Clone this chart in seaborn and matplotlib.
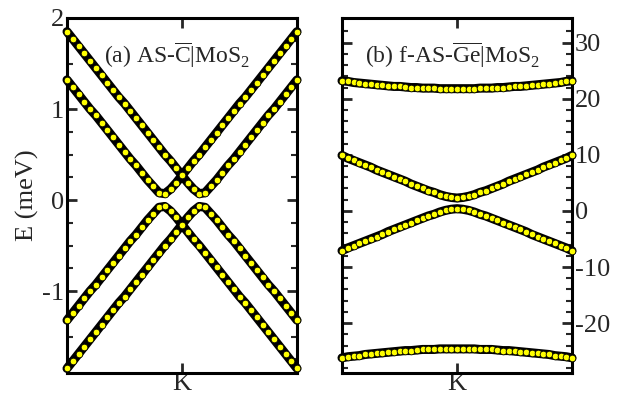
import numpy as np
import pandas as pd
import seaborn as sns
import matplotlib.pyplot as plt

# bandas do painel (a), em meV (41 pontos k)
a_up1 = [1.32, 1.24, 1.16, 1.08, 1.00, 0.93, 0.85, 0.77, 0.69, 0.61, 0.53, 0.45, 0.38, 0.30,
         0.22, 0.15, 0.08, 0.07, 0.12, 0.19, 0.27, 0.35, 0.43, 0.50, 0.58, 0.66, 0.74, 0.82,
         0.90, 0.98, 1.06, 1.13, 1.21, 1.29, 1.37, 1.45, 1.53, 1.61, 1.69, 1.77, 1.85]
a_up2 = [1.85, 1.77, 1.69, 1.61, 1.53, 1.45, 1.37, 1.29, 1.21, 1.13, 1.06, 0.98, 0.90, 0.82,
         0.74, 0.66, 0.58, 0.50, 0.43, 0.35, 0.27, 0.19, 0.12, 0.07, 0.08, 0.15, 0.22, 0.30,
         0.38, 0.45, 0.53, 0.61, 0.69, 0.77, 0.85, 0.93, 1.00, 1.08, 1.16, 1.24, 1.32]
a_dn1 = [-1.32, -1.24, -1.16, -1.08, -1.00, -0.93, -0.85, -0.77, -0.69, -0.61, -0.53, -0.45, -0.38, -0.30,
         -0.22, -0.15, -0.08, -0.07, -0.12, -0.19, -0.27, -0.35, -0.43, -0.50, -0.58, -0.66, -0.74, -0.82,
         -0.90, -0.98, -1.06, -1.13, -1.21, -1.29, -1.37, -1.45, -1.53, -1.61, -1.69, -1.77, -1.85]
a_dn2 = [-1.85, -1.77, -1.69, -1.61, -1.53, -1.45, -1.37, -1.29, -1.21, -1.13, -1.06, -0.98, -0.90, -0.82,
         -0.74, -0.66, -0.58, -0.50, -0.43, -0.35, -0.27, -0.19, -0.12, -0.07, -0.08, -0.15, -0.22, -0.30,
         -0.38, -0.45, -0.53, -0.61, -0.69, -0.77, -0.85, -0.93, -1.00, -1.08, -1.16, -1.24, -1.32]

# bandas do painel (b), em meV (41 pontos k)
b_1 = [23.2, 23.1, 22.9, 22.8, 22.7, 22.6, 22.5, 22.4, 22.3, 22.2, 22.2, 22.1, 22.0, 22.0, 21.9, 21.9, 21.9,
       21.8, 21.8, 21.8, 21.8, 21.8, 21.8, 21.8, 21.9, 21.9, 21.9, 22.0, 22.0, 22.1, 22.2, 22.2, 22.3, 22.4,
       22.5, 22.6, 22.7, 22.8, 22.9, 23.1, 23.2]
b_2 = [9.9, 9.4, 9.0, 8.6, 8.2, 7.8, 7.3, 6.9, 6.5, 6.1, 5.7, 5.3, 4.8, 4.4, 4.0, 3.6, 3.3, 2.9, 2.6, 2.4,
       2.3, 2.4, 2.6, 2.9, 3.3, 3.6, 4.0, 4.4, 4.8, 5.3, 5.7, 6.1, 6.5, 6.9, 7.3, 7.8, 8.2, 8.6, 9.0, 9.4, 9.9]
b_3 = [-7.1, -6.6, -6.2, -5.8, -5.4, -5.0, -4.6, -4.2, -3.7, -3.3, -2.9, -2.5, -2.1, -1.7, -1.3, -0.9, -0.6,
       -0.2, 0.1, 0.3, 0.4, 0.3, 0.1, -0.2, -0.6, -0.9, -1.3, -1.7, -2.1, -2.5, -2.9, -3.3, -3.7, -4.2, -4.6,
       -5.0, -5.4, -5.8, -6.2, -6.6, -7.1]
b_4 = [-26.2, -26.0, -25.9, -25.8, -25.6, -25.5, -25.4, -25.3, -25.2, -25.1, -25.0, -24.9, -24.9, -24.8,
       -24.7, -24.7, -24.7, -24.6, -24.6, -24.6, -24.6, -24.6, -24.6, -24.6, -24.7, -24.7, -24.7, -24.8,
       -24.9, -24.9, -25.0, -25.1, -25.2, -25.3, -25.4, -25.5, -25.6, -25.8, -25.9, -26.0, -26.2]

titulos = [r"(a) AS-$\overline{\rm C}$|MoS$_2$", r"(b) f-AS-$\overline{\rm Ge}$|MoS$_2$"]

sns.set_style("white")
plt.rcParams['font.family'] = ['Liberation Serif', 'DejaVu Serif']
plt.rcParams['mathtext.fontset'] = 'custom'
plt.rcParams['mathtext.rm'] = 'Liberation Serif'
plt.rcParams['axes.unicode_minus'] = False

fig = plt.figure(figsize=(6.25, 4.01), dpi=100)
ax1 = fig.add_axes([67 / 625, 28 / 401, 230 / 625, 355 / 401])
ax2 = fig.add_axes([342 / 625, 28 / 401, 230 / 625, 355 / 401])


def desenha(ax, bandas):
    for b in bandas:
        df = pd.DataFrame({"k": np.linspace(0, 1, len(b)), "E": b})
        sns.lineplot(data=df, x="k", y="E", ax=ax, color="black", linewidth=6.5,
                     marker="o", markersize=4.8, markerfacecolor="#ffff00",
                     markeredgecolor="black", markeredgewidth=0.6, clip_on=False, zorder=3)


desenha(ax1, [a_up1, a_up2, a_dn1, a_dn2])
desenha(ax2, [b_1, b_2, b_3, b_4])

ax1.set_ylim(-1.9, 2.0)
ax1.set_yticks([-1, 0, 1, 2])
ax1.set_yticks(np.arange(-1.75, 2.0, 0.25), minor=True)
ax2.set_ylim(-28.9, 34.4)
ax2.set_yticks([-20, -10, 0, 10, 20, 30])
ax2.set_yticks(np.arange(-28, 34, 2), minor=True)

for ax, t in zip([ax1, ax2], titulos):
    ax.set_xlim(0, 1)
    ax.set_xticks([0.5])
    ax.set_xticklabels(["K"])
    ax.set_xlabel("")
    ax.set_ylabel("")
    for s in ax.spines.values():
        s.set_linewidth(2.2)
        s.set_color("black")
    ax.tick_params(axis="both", which="major", direction="in", length=7, width=2,
                   labelsize=19, top=True, right=True, left=True, bottom=True, pad=2)
    ax.tick_params(axis="y", which="minor", direction="in", length=4, width=1.5,
                   left=True, right=True)
    ax.tick_params(axis="x", which="major", pad=0)
    ax.text(0.48, 0.895, t, transform=ax.transAxes, ha="center", va="center", fontsize=17)

ax2.tick_params(axis="y", which="both", labelleft=False, labelright=True)
ax1.set_ylabel("E (meV)", fontsize=19, labelpad=2)

plt.savefig("out.png", dpi=100)
